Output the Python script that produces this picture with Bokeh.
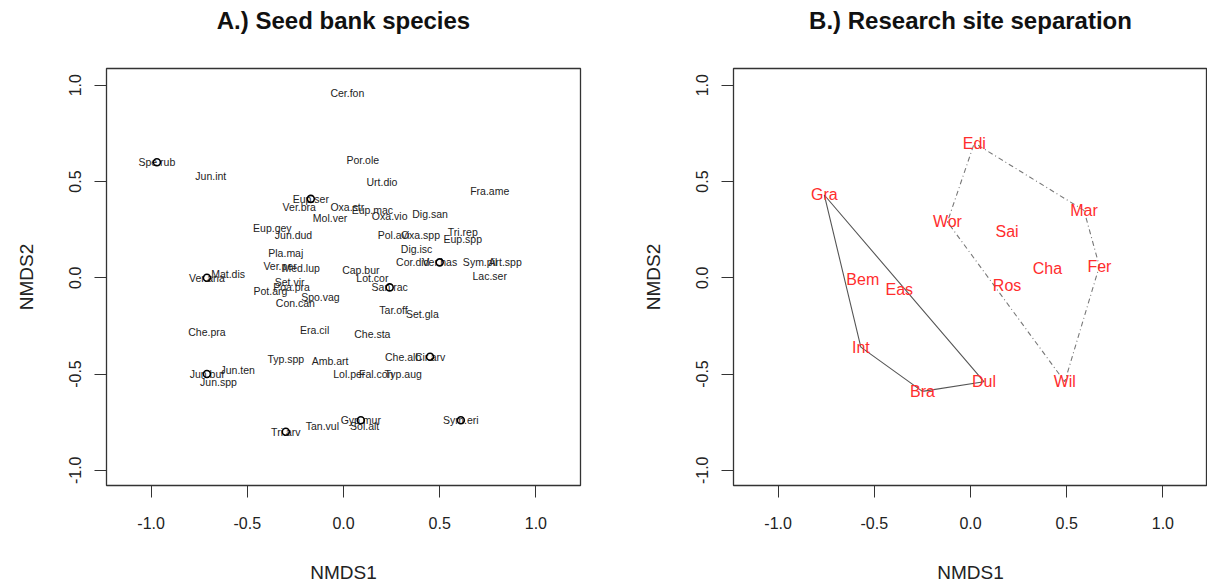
from bokeh.plotting import figure
from bokeh.layouts import row, column
from bokeh.models import FixedTicker, PrintfTickFormatter, Range1d, ColumnDataSource
from bokeh.core.properties import value
from bokeh.embed import file_html
from bokeh.resources import INLINE

# ---- Panel A: species scores on the two NMDS axes ----
species = ["Cer.fon", "Spe.rub", "Jun.int", "Por.ole", "Urt.dio", "Fra.ame",
           "Eup.ser", "Ver.bra", "Oxa.str", "Eup.mac", "Mol.ver", "Oxa.vio",
           "Dig.san", "Eup.gey", "Jun.dud", "Pol.avi", "Oxa.spp", "Tri.rep",
           "Eup.spp", "Dig.isc", "Pla.maj", "Ver.per", "Med.lup", "Cor.did",
           "Ver.has", "Sym.pil", "Art.spp", "Lac.ser", "Cap.bur", "Lot.cor",
           "San.rac", "Mat.dis", "Ver.ana", "Set.vir", "Poa.pra", "Pot.arg",
           "Spo.vag", "Con.can", "Tar.off", "Set.gla", "Era.cil", "Che.pra",
           "Che.sta", "Typ.spp", "Amb.art", "Che.alb", "Cir.arv", "Jun.ten",
           "Jun.buf", "Jun.spp", "Lol.per", "Fal.con", "Typ.aug", "Gyp.mur",
           "Sol.alt", "Sym.eri", "Tan.vul", "Tri.arv"]
sp_nmds1 = [0.02, -0.97, -0.69, 0.10, 0.20, 0.76,
            -0.17, -0.23, 0.02, 0.15, -0.07, 0.24,
            0.45, -0.37, -0.26, 0.26, 0.40, 0.62,
            0.62, 0.38, -0.30, -0.33, -0.22, 0.36,
            0.50, 0.71, 0.84, 0.76, 0.09, 0.15,
            0.24, -0.60, -0.71, -0.28, -0.27, -0.38,
            -0.12, -0.25, 0.26, 0.41, -0.15, -0.71,
            0.15, -0.30, -0.07, 0.31, 0.45, -0.55,
            -0.71, -0.65, 0.03, 0.17, 0.31, 0.09,
            0.11, 0.61, -0.11, -0.30]
sp_nmds2 = [0.96, 0.60, 0.53, 0.61, 0.50, 0.45,
            0.41, 0.37, 0.37, 0.35, 0.31, 0.32,
            0.33, 0.26, 0.22, 0.22, 0.22, 0.24,
            0.20, 0.15, 0.13, 0.06, 0.05, 0.08,
            0.08, 0.08, 0.08, 0.01, 0.04, 0.00,
            -0.05, 0.02, 0.00, -0.02, -0.05, -0.07,
            -0.10, -0.13, -0.17, -0.19, -0.27, -0.28,
            -0.29, -0.42, -0.43, -0.41, -0.41, -0.48,
            -0.50, -0.54, -0.50, -0.50, -0.50, -0.74,
            -0.77, -0.74, -0.77, -0.80]
# species also marked with an open circle
marked = ["Spe.rub", "Eup.ser", "Ver.has", "San.rac", "Ver.ana", "Cir.arv",
          "Jun.buf", "Gyp.mur", "Sym.eri", "Tri.arv"]

# ---- Panel B: research sites and their group ----
sites = ["Edi", "Gra", "Mar", "Wor", "Sai", "Cha", "Fer", "Bem", "Ros",
         "Eas", "Int", "Dul", "Wil", "Bra"]
site_nmds1 = [0.02, -0.76, 0.59, -0.12, 0.19, 0.40, 0.67, -0.56, 0.19,
              -0.37, -0.57, 0.07, 0.49, -0.25]
site_nmds2 = [0.70, 0.43, 0.35, 0.29, 0.24, 0.05, 0.06, -0.01, -0.04,
              -0.06, -0.36, -0.54, -0.54, -0.59]
site_group = [2, 1, 2, 2, 2, 2, 2, 1, 2, 1, 1, 1, 2, 1]

panel_titles = ["A.) Seed bank species", "B.) Research site separation"]
tick_values = [-1.0, -0.5, 0.0, 0.5, 1.0]
FONT = "Liberation Sans"
INK = "#222222"
X_LIM = (-1.232, 1.232)
Y_LIM = (-1.079, 1.087)
HEAD_H = 66   # height of the heading strip above each panel


def convex_hull(points):
    pts = sorted(set(points))
    def cross(o, a, b):
        return (a[0] - o[0]) * (b[1] - o[1]) - (a[1] - o[1]) * (b[0] - o[0])
    lower, upper = [], []
    for pt in pts:
        while len(lower) >= 2 and cross(lower[-2], lower[-1], pt) <= 0:
            lower.pop()
        lower.append(pt)
    for pt in reversed(pts):
        while len(upper) >= 2 and cross(upper[-2], upper[-1], pt) <= 0:
            upper.pop()
        upper.append(pt)
    hull = lower[:-1] + upper[:-1]
    return hull + [hull[0]]


def make_heading(title, width, left, right):
    h = figure(width=width, height=HEAD_H,
               x_range=Range1d(*X_LIM), y_range=Range1d(0, HEAD_H),
               output_backend="svg", toolbar_location=None,
               x_axis_location=None, y_axis_location=None,
               min_border_left=left, min_border_right=right,
               min_border_top=0, min_border_bottom=0)
    h.grid.visible = False
    h.outline_line_color = None
    h.text(x=[0], y=[HEAD_H - 20], text=[title],
           text_align="center", text_baseline="middle",
           text_font=value(FONT), text_font_size="24px",
           text_font_style="bold", text_color="#111111")
    return h


def make_panel(width, left, right):
    p = figure(width=width, height=586 - HEAD_H,
               x_range=Range1d(*X_LIM), y_range=Range1d(*Y_LIM),
               output_backend="svg", toolbar_location=None,
               min_border_left=left, min_border_right=right,
               min_border_top=68 - HEAD_H, min_border_bottom=101)
    p.grid.visible = False
    p.outline_line_color = "#333333"
    p.outline_line_width = 1.3
    p.background_fill_color = "white"
    p.border_fill_color = "white"
    for ax in (p.xaxis[0], p.yaxis[0]):
        ax.ticker = FixedTicker(ticks=tick_values)
        ax.formatter = PrintfTickFormatter(format="%.1f")
        ax.axis_line_color = None
        ax.major_tick_in = 0
        ax.major_tick_out = 12
        ax.major_tick_line_color = "#333333"
        ax.minor_tick_in = 0
        ax.minor_tick_out = 0
        ax.major_label_text_font = FONT
        ax.major_label_text_font_size = "16px"
        ax.major_label_text_color = INK
        ax.axis_label_text_font = FONT
        ax.axis_label_text_font_size = "19px"
        ax.axis_label_text_font_style = "normal"
        ax.axis_label_text_color = INK
    p.xaxis.axis_label = "NMDS1"
    p.yaxis.axis_label = "NMDS2"
    p.xaxis.major_label_standoff = 19
    p.xaxis.axis_label_standoff = 30
    p.yaxis.major_label_orientation = "vertical"
    p.yaxis.major_label_standoff = 13
    p.yaxis.axis_label_standoff = 30
    return p


# Panel A
pa = make_panel(620, 106, 40)
sp_src = ColumnDataSource(dict(x=sp_nmds1, y=sp_nmds2, name=species))
pa.text(x="x", y="y", text="name", source=sp_src,
        text_align="center", text_baseline="middle",
        text_font=value(FONT), text_font_size="10.5px", text_color=INK)
mx = [x for x, s in zip(sp_nmds1, species) if s in marked]
my = [y for y, s in zip(sp_nmds2, species) if s in marked]
pa.scatter(mx, my, marker="circle", size=7, fill_color=None,
           line_color="black", line_width=1.6)

# Panel B
pb = make_panel(587, 113, 0)
hull_styles = {1: dict(line_color="#555555", line_width=1.1),
               2: dict(line_color="#777777", line_width=1.1, line_dash="1 3 5 3")}
for g in (1, 2):
    pts = [(x, y) for x, y, gg in zip(site_nmds1, site_nmds2, site_group) if gg == g]
    hull = convex_hull(pts)
    pb.line([h[0] for h in hull], [h[1] for h in hull], **hull_styles[g])
site_src = ColumnDataSource(dict(x=site_nmds1, y=site_nmds2, name=sites))
pb.text(x="x", y="y", text="name", source=site_src,
        text_align="center", text_baseline="middle",
        text_font=value(FONT), text_font_size="16px", text_color="#ff2d2d")

ha = make_heading(panel_titles[0], 620, 106, 40)
hb = make_heading(panel_titles[1], 587, 113, 0)

layout = row(column(ha, pa, spacing=0), column(hb, pb, spacing=0), spacing=0)
open("out.html", "w").write(file_html(layout, INLINE))
